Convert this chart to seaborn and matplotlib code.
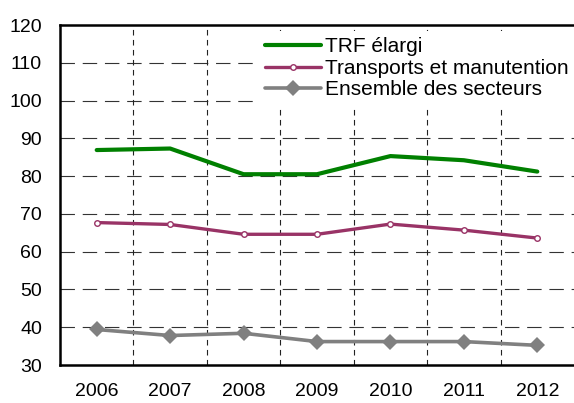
import matplotlib
matplotlib.use("Agg")
import matplotlib.pyplot as plt
import seaborn as sns
import pandas as pd

years = [2006, 2007, 2008, 2009, 2010, 2011, 2012]
trf_elargi = [86.9, 87.3, 80.5, 80.5, 85.3, 84.2, 81.2]
transports = [67.7, 67.2, 64.6, 64.6, 67.3, 65.7, 63.6]
ensemble = [39.4, 37.8, 38.4, 36.2, 36.2, 36.2, 35.2]
series_names = ["TRF élargi", "Transports et manutention", "Ensemble des secteurs"]
y_ticks = [30, 40, 50, 60, 70, 80, 90, 100, 110, 120]

df = pd.DataFrame({
    "année": years * 3,
    "valeur": trf_elargi + transports + ensemble,
    "série": [series_names[0]] * 7 + [series_names[1]] * 7 + [series_names[2]] * 7,
})

sns.set_theme(style="white")
plt.rcParams["font.family"] = ["Liberation Sans", "DejaVu Sans"]
plt.rcParams["text.color"] = "black"

fig = plt.figure(figsize=(5.74, 4.03), dpi=100)
ax = fig.add_axes([60 / 574, 38 / 403, 514 / 574, 340 / 403])

styles = {
    series_names[0]: dict(color="#008000", marker=None, lw=3.0),
    series_names[1]: dict(color="#993366", marker="o", ms=4, mfc="white", mec="#993366", mew=1.0, lw=2.4),
    series_names[2]: dict(color="#808080", marker="D", ms=8, mfc="#808080", mec="#808080", lw=2.6),
}

for name in series_names:
    st = styles[name]
    sub = df[df["série"] == name]
    sns.lineplot(data=sub, x="année", y="valeur", ax=ax, label=name,
                 color=st["color"], linewidth=st["lw"],
                 marker=st.get("marker"), markersize=st.get("ms", 0),
                 markerfacecolor=st.get("mfc"), markeredgecolor=st.get("mec"),
                 markeredgewidth=st.get("mew", 0), zorder=3)

ax.set_xlim(2005.5, 2012.5)
ax.set_ylim(30, 120)
ax.set_yticks(y_ticks)
ax.set_xticks(years)
ax.set_xticklabels([str(y) for y in years])
ax.set_xlabel("")
ax.set_ylabel("")

# horizontal grid: long dashes
for yv in y_ticks[1:-1]:
    ax.axhline(yv, color="#333333", lw=0.8, ls=(0, (13, 7)), zorder=1)
# vertical grid between years: short dashes
for xv in [y + 0.5 for y in years[:-1]]:
    ax.axvline(xv, color="#222222", lw=0.8, ls=(0, (5, 4)), zorder=1)

for side in ["left", "bottom", "top"]:
    ax.spines[side].set_color("black")
    ax.spines[side].set_linewidth(1.8)
ax.spines["right"].set_visible(False)

ax.tick_params(axis="y", labelsize=14, labelcolor="black", length=0, pad=13)
ax.tick_params(axis="x", labelsize=14, labelcolor="black", length=0, pad=13)

leg = ax.legend(loc="upper left", bbox_to_anchor=(197 / 514, 0.988), frameon=True,
                fontsize=15, handlelength=2.65, handletextpad=0.2, labelspacing=0.12,
                borderaxespad=0.1, borderpad=0.3, labelcolor="black",
                facecolor="white", edgecolor="none", framealpha=1.0, fancybox=False)
leg.set_zorder(5)

fig.savefig("out.png", dpi=100)
